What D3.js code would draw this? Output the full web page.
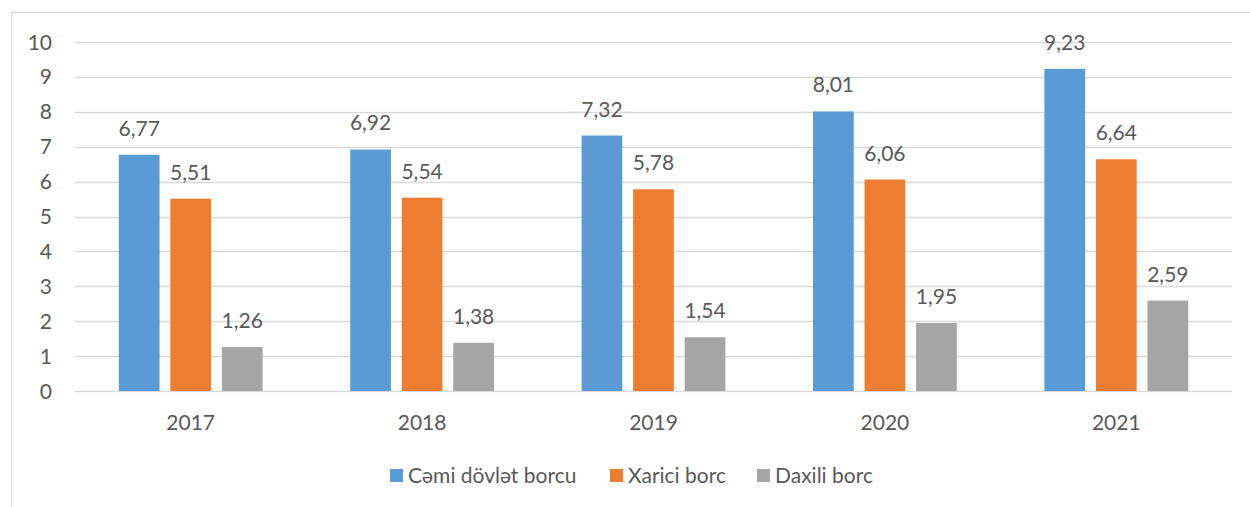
<!DOCTYPE html>
<html>
<head>
<meta charset="utf-8">
<script src="https://cdn.jsdelivr.net/npm/d3@7"></script>
<style>
  body { margin: 0; background: #fff; }
  text { font-family: Lato, "Open Sans", sans-serif; fill: #595959; }
</style>
</head>
<body>
<div id="chart"></div>
<script>
// データ
const years = ["2017", "2018", "2019", "2020", "2021"];
const seriesNames = ["Cəmi dövlət borcu", "Xarici borc", "Daxili borc"];
const cemi = [6.77, 6.92, 7.32, 8.01, 9.23];
const xarici = [5.51, 5.54, 5.78, 6.06, 6.64];
const daxili = [1.26, 1.38, 1.54, 1.95, 2.59];
const yTicks = [0, 1, 2, 3, 4, 5, 6, 7, 8, 9, 10];

const colors = ["#5B9BD5", "#ED7D31", "#A5A5A5"];
const values = [cemi, xarici, daxili];

const width = 1250;
const height = 507;
const plot = { left: 75, right: 1232, top: 42, bottom: 391 };
const fontSize = "21px";

const svg = d3.select("#chart")
  .append("svg")
  .attr("width", width)
  .attr("height", height);

// 外枠
svg.append("rect")
  .attr("x", 11.5)
  .attr("y", 12.5)
  .attr("width", width)
  .attr("height", height)
  .attr("fill", "none")
  .attr("stroke", "#D9D9D9");

const x0 = d3.scaleBand()
  .domain(years)
  .range([plot.left, plot.right])
  .padding(0);

const x1 = d3.scaleBand()
  .domain(seriesNames)
  .range([0, x0.bandwidth()])
  .paddingInner(0.21)
  .paddingOuter(0.85);

const y = d3.scaleLinear()
  .domain([0, 10])
  .range([plot.bottom, plot.top]);

// グリッド線
svg.append("g")
  .selectAll("line")
  .data(yTicks)
  .enter()
  .append("line")
  .attr("x1", plot.left)
  .attr("x2", plot.right)
  .attr("y1", d => Math.round(y(d)) + 0.5)
  .attr("y2", d => Math.round(y(d)) + 0.5)
  .attr("stroke", "#D9D9D9")
  .attr("stroke-width", 1.3);

// Y軸ラベル
svg.append("g")
  .selectAll("text")
  .data(yTicks)
  .enter()
  .append("text")
  .attr("x", 52)
  .attr("y", d => y(d))
  .attr("dy", "0.36em")
  .attr("text-anchor", "end")
  .style("font-size", fontSize)
  .text(d => d);

// 棒グラフ
const groups = svg.selectAll("g.year")
  .data(years)
  .enter()
  .append("g")
  .attr("class", "year")
  .attr("transform", d => `translate(${x0(d)},0)`);

seriesNames.forEach((name, si) => {
  groups.append("rect")
    .attr("x", x1(name))
    .attr("y", (d, i) => y(values[si][i]))
    .attr("width", x1.bandwidth())
    .attr("height", (d, i) => y(0) - y(values[si][i]))
    .attr("fill", colors[si]);

  groups.append("text")
    .attr("x", x1(name) + x1.bandwidth() / 2)
    .attr("y", (d, i) => y(values[si][i]) - 19)
    .attr("text-anchor", "middle")
    .style("font-size", fontSize)
    .text((d, i) => values[si][i].toFixed(2).replace(".", ","));
});

// X軸ラベル
svg.append("g")
  .selectAll("text")
  .data(years)
  .enter()
  .append("text")
  .attr("x", d => x0(d) + x0.bandwidth() / 2)
  .attr("y", 430)
  .attr("text-anchor", "middle")
  .style("font-size", fontSize)
  .text(d => d);

// 凡例
const legendX = [390, 610, 757];
const legend = svg.selectAll(".legend")
  .data(seriesNames)
  .enter()
  .append("g")
  .attr("class", "legend")
  .attr("transform", (d, i) => `translate(${legendX[i]},469)`);

legend.append("rect")
  .attr("width", 13)
  .attr("height", 13)
  .attr("fill", (d, i) => colors[i]);

legend.append("text")
  .attr("x", 18)
  .attr("y", 6.5)
  .attr("dy", "0.36em")
  .style("font-size", fontSize)
  .text(d => d);
</script>
</body>
</html>
